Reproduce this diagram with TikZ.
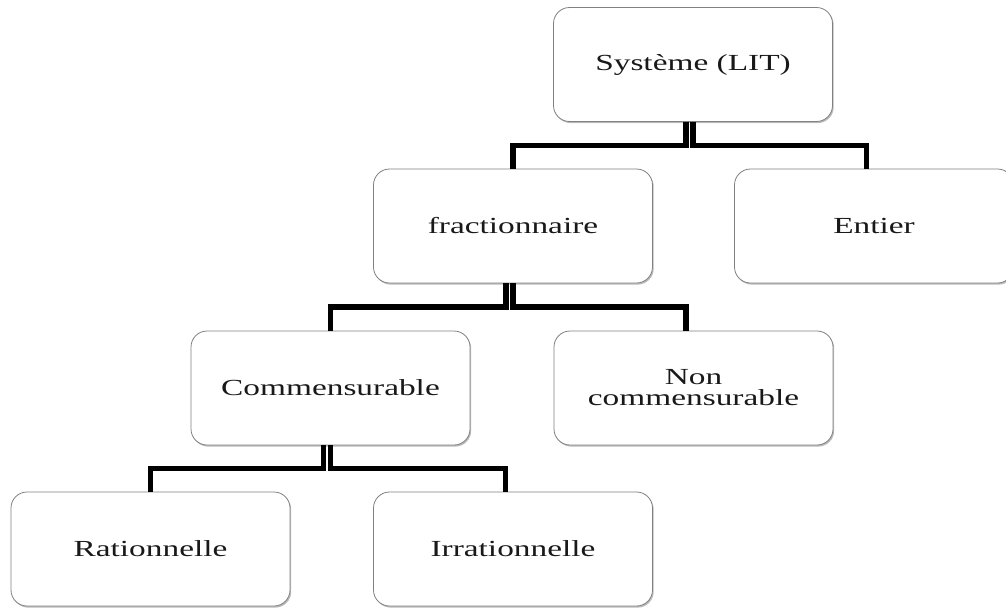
\documentclass[tikz,border=0pt]{standalone}
\usepackage{fontspec}
\setmainfont{Liberation Serif}[FakeStretch=1.45]
\usetikzlibrary{calc,shadows}
\begin{document}
\begin{tikzpicture}[x=1pt,y=-1pt,
  box/.style={draw=black!50, line width=0.8pt, fill=white, rounded corners=16pt,
    minimum width=279pt, minimum height=114pt, inner sep=0pt, align=center,
    text=black!90, font=\fontsize{23}{21}\selectfont,
    drop shadow={shadow xshift=1.2pt, shadow yshift=-1.6pt, opacity=0.45, fill=black!60}},
  conn/.style={draw=black, line width=5.5pt}]
\useasboundingbox (0,0) rectangle (1006,608);
\node[box] (sys)  at (693,64.5) {Système (LIT)};
\node[box] (frac) at (513,226) {fractionnaire};
\node[box] (ent)  at (874,226) {Entier};
\node[box] (com)  at (330.5,388) {Commensurable};
\node[box] (non)  at (693.5,388) {Non\\commensurable};
\node[box] (rat)  at (150.5,549) {Rationnelle};
\node[box] (irr)  at (513,549) {Irrationnelle};
% level 1
\coordinate (m1) at ($(sys.south)!.5!(frac.north)$);
\coordinate (a1) at ([xshift=-7pt]sys.south);
\coordinate (b1) at ([xshift=-7.5pt]ent.north);
\draw[conn] (a1) -- (a1 |- m1) -| (frac.north);
\draw[conn] (sys.south) -- (sys.south |- m1) -| (b1);
% level 2
\coordinate (m2) at ($(frac.south)!.5!(com.north)$);
\coordinate (a2) at ([xshift=-7pt]frac.south);
\coordinate (b2) at ([xshift=-7.5pt]non.north);
\draw[conn] (a2) -- (a2 |- m2) -| (com.north);
\draw[conn] (frac.south) -- (frac.south |- m2) -| (b2);
% level 3
\coordinate (m3) at ($(com.south)!.5!(rat.north)$);
\coordinate (a3) at ([xshift=-7pt]com.south);
\coordinate (b3) at ([xshift=-7.5pt]irr.north);
\draw[conn] (a3) -- (a3 |- m3) -| (rat.north);
\draw[conn] (com.south) -- (com.south |- m3) -| (b3);
\end{tikzpicture}
\end{document}
